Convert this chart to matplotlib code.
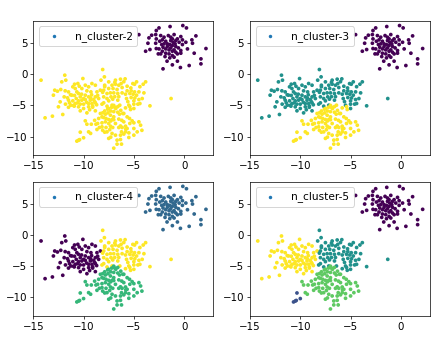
"""Four KMeans-style cluster panels over the same blobs, n_cluster 2 to 5."""

import matplotlib
matplotlib.use("Agg")
import matplotlib.pyplot as plt
import numpy as np

# points, grouped by which cluster they fall in
TOP_X = [-1.4, -0.13, 0.23, -2.5, -2.77, -3.23, -3.5, -3.6, -3.83, -3.4, -2.83, -2.77, -2.83, -2.77, -2.57,
         -2.33, -2.17, -2.0, -1.57, -1.0, -0.33, -0.17, 0.77, 1.17, 0.83, -1.83, -1.67, -1.33, -1.17, -0.83,
         -0.5, -0.17, 0.17, -2.23, -2.1, -1.83, -1.5, -1.17, -0.83, -0.57, -0.33, -2.17, -1.83, -1.5, -1.17,
         -0.67, -0.33, 0.33, 1.0, 2.17, 1.67, 1.67, 0.5, -0.37, -1.17, -2.1, -1.7, -0.67, -2.33, -2.5,
         -1.33, -1.0, -1.67, -1.43, -1.1, -0.9, -2.0, -2.43, -0.67, -1.33, -1.17, -0.83, -1.9, -1.43, -1.0, -4.5]
TOP_Y = [7.66, 7.82, 7.44, 7.44, 7.02, 6.27, 5.84, 4.98, 3.7, 3.97, 6.37, 5.68, 4.98, 4.13, 3.27,
         6.21, 5.52, 5.95, 6.21, 6.37, 6.05, 5.52, 5.52, 6.16, 4.98, 5.3, 4.88, 5.41, 5.68, 5.41,
         5.14, 4.77, 5.14, 4.77, 4.34, 4.07, 3.91, 4.61, 4.45, 4.23, 3.81, 3.7, 3.38, 3.27, 3.0,
         3.27, 3.38, 4.07, 3.38, 4.13, 2.47, 1.67, 1.4, 1.08, 1.51, 0.87, 2.1, 2.1, 3.27, 4.07,
         4.23, 3.91, 4.45, 4.77, 5.14, 4.88, 4.88, 5.3, 5.68, 5.95, 3.7, 3.54, 2.84, 2.63, 2.74, 6.36]

LEFT_X = [-14.23, -11.87, -11.77, -12.17, -10.07, -11.07, -10.57, -10.43, -9.83, -9.5, -9.17, -8.83, -12.87,
          -12.6, -13.0, -12.27, -11.83, -11.5, -10.83, -10.67, -10.17, -9.67, -9.27, -8.67, -8.33, -11.93,
          -11.6, -11.17, -9.83, -10.33, -10.73, -9.5, -8.83, -12.33, -12.5, -11.8, -11.4, -11.07, -11.27,
          -10.83, -10.5, -10.17, -9.83, -9.33, -9.0, -8.5, -10.33, -10.0, -9.5, -10.93, -10.5, -9.17, -8.83,
          -10.0, -9.67, -10.33, -8.83, -13.83, -13.1, -12.07, -9.5, -11.5, -9.2, -10.9, -11.0, -10.2, -9.1,
          -11.3, -10.5, -10.0, -9.7, -10.6, -9.3, -8.9, -9.1, -11.5, -10.9, -8.6, -8.7, -9.4]
LEFT_Y = [-0.95, -0.15, -0.95, -1.22, -0.69, -2.02, -1.49, -1.92, -1.76, -2.02, -1.49, -1.76, -2.56,
          -2.72, -3.36, -2.45, -2.66, -2.83, -2.29, -2.83, -2.29, -2.66, -2.83, -2.83, -2.56, -3.63,
          -3.79, -3.36, -3.36, -3.63, -3.9, -3.63, -3.63, -4.43, -5.23, -4.8, -4.59, -4.27, -4.97,
          -4.7, -4.27, -4.16, -4.06, -4.16, -4.06, -3.9, -4.8, -4.8, -4.7, -5.12, -5.23, -4.7, -4.59,
          -5.5, -6.2, -5.87, -5.87, -7.0, -6.73, -6.46, -5.23, -4.16, -3.3, -3.4, -5.0, -3.2, -5.1,
          -3.3, -3.1, -3.9, -4.5, -4.6, -3.8, -4.4, -5.3, -5.3, -1.6, -3.4, -4.9, -5.7]

MID_X = [-8.1, -7.93, -8.27, -7.5, -6.83, -6.33, -5.87, -4.73, -3.83, -4.07, -7.9, -7.17, -6.83, -6.5, -6.27,
         -5.67, -4.93, -8.0, -7.5, -7.07, -6.67, -6.17, -5.67, -5.27, -4.93, -4.5, -4.0, -7.67, -7.33, -7.0,
         -6.6, -6.17, -5.83, -5.4, -5.07, -4.73, -8.0, -7.67, -7.27, -5.73, -5.27, -4.17, -4.5, -8.0, -7.5,
         -6.6, -5.0, -7.67, -8.17, -7.17, -5.5, -5.0, -4.6, -3.4, -1.3,
         -6.9, -6.5, -5.0, -4.4, -5.6, -7.1, -7.9, -6.0, -6.9, -5.3, -4.4, -5.1, -4.9, -8.1]
MID_Y = [0.76, -0.42, -0.95, -1.22, -0.95, -0.79, -0.74, -1.22, -1.22, -1.6, -1.76, -1.76, -1.6, -1.76, -1.49,
         -1.92, -1.6, -2.56, -2.29, -2.29, -2.45, -2.13, -2.66, -2.66, -2.83, -2.83, -2.99, -3.09, -2.99, -2.99,
         -3.09, -2.99, -3.2, -3.09, -3.2, -3.36, -3.63, -3.9, -3.63, -3.9, -3.74, -3.9, -4.06, -4.59, -4.27,
         -4.16, -4.27, -5.13, -4.8, -4.97, -4.97, -5.5, -4.8, -5.07, -3.9,
         -3.6, -3.6, -4.8, -4.7, -4.4, -4.0, -2.0, -1.2, -1.3, -2.2, -2.0, -1.5, -3.8, -2.9]

# lower edge of the middle blob: yellow with 3 clusters, teal with 5
MID_LOW_X = [-6.4, -5.83, -5.33, -5.4]
MID_LOW_Y = [-4.97, -5.4, -5.66, -5.2]

LOW_X = [-9.83, -9.67, -9.23, -8.77, -9.5, -8.33, -8.1, -8.5, -8.17, -7.83, -7.57, -7.33, -7.0, -6.43, -6.0, -5.67,
         -5.43, -5.17, -4.5, -4.33, -8.0, -7.77, -7.5, -7.17, -7.83, -8.17, -7.5, -8.67, -8.43, -8.17, -7.77, -7.33,
         -7.1, -7.67, -7.17, -7.5, -6.33, -6.0, -6.17, -5.83, -6.23, -5.83, -5.5, -5.0, -4.67, -5.0, -5.5, -6.33,
         -6.83, -6.67, -6.33, -6.23, -6.67, -7.0, -5.67, -5.0, -6.83, -6.5,
         -7.6, -7.2, -6.8, -6.3, -7.9, -7.0, -6.6, -7.3, -6.1, -7.0, -6.6, -7.5, -6.9,
         -8.9, -8.6, -7.3, -7.0, -7.4, -7.9, -8.1, -6.5, -6.2, -5.4, -5.8, -6.0, -7.3, -4.2, -9.3]
LOW_Y = [-7.48, -8.02, -8.02, -8.02, -9.25, -6.3, -6.2, -7.1, -6.84, -6.41, -6.2, -6.57, -6.84, -6.41, -6.3, -6.84,
         -7.1, -7.48, -7.64, -8.18, -6.95, -7.1, -7.27, -7.27, -7.64, -7.8, -7.91, -8.87, -8.55, -8.44, -8.55, -8.34,
         -8.55, -9.25, -9.51, -10.3, -8.31, -7.64, -8.55, -8.34, -9.25, -9.25, -9.41, -8.71, -9.25, -9.78, -10.15, -9.78,
         -9.78, -10.58, -10.48, -11.22, -11.22, -11.87, -8.71, -7.8, -7.91, -8.55,
         -5.6, -5.3, -5.5, -5.8, -5.9, -6.0, -6.1, -5.9, -6.3, -5.0, -5.2, -5.5, -5.3,
         -7.4, -7.9, -7.5, -7.3, -8.9, -9.3, -9.0, -7.2, -7.4, -7.9, -8.8, -9.6, -10.1, -9.0, -9.5]

TAIL_X = [-10.33, -10.0, -10.4, -10.67, -10.5]
TAIL_Y = [-9.3, -10.2, -10.5, -10.74, -10.6]

GROUP_X = [TOP_X, LEFT_X, MID_X, MID_LOW_X, LOW_X, TAIL_X]
GROUP_Y = [TOP_Y, LEFT_Y, MID_Y, MID_LOW_Y, LOW_Y, TAIL_Y]

# cluster index of each group above, for every panel
N_CLUSTERS = [2, 3, 4, 5]
GROUP_LABELS = {
    2: [0, 1, 1, 1, 1, 1],
    3: [0, 1, 1, 2, 2, 2],
    4: [1, 0, 3, 3, 2, 2],
    5: [0, 4, 2, 2, 3, 1],
}
X_TICKS = [-15, -10, -5, 0]
Y_TICKS = [-10, -5, 0, 5]

# panel boxes in pixels: left, top
W, H = 447, 356
LEFTS = [33.3, 250.0]
TOPS = [20.7, 181.5]
BOX_W, BOX_H = 180.0, 134.2


def main() -> None:
    fig = plt.figure(figsize=(W / 72, H / 72), dpi=72)

    x = np.concatenate(GROUP_X)
    y = np.concatenate(GROUP_Y)

    for i, k in enumerate(N_CLUSTERS):
        left = LEFTS[i % 2]
        top = TOPS[i // 2]
        ax = fig.add_axes([left / W, 1 - (top + BOX_H) / H, BOX_W / W, BOX_H / H])

        labels = np.repeat(GROUP_LABELS[k], [len(g) for g in GROUP_X])
        ax.scatter(x, y, c=labels, cmap="viridis", s=14, linewidths=0)

        # legend handle stays default blue, not a cluster colour
        ax.scatter([], [], s=12, color="tab:blue", linewidths=0, label=f"n_cluster-{k}")
        ax.legend(loc="upper left", fontsize=10.5, handlelength=2.0, handletextpad=1.0, borderaxespad=0.55)

        ax.set_xlim(-15, 2.9)
        ax.set_ylim(-12.95, 8.6)
        ax.set_xticks(X_TICKS)
        ax.set_yticks(Y_TICKS)
        ax.tick_params(labelsize=10.3, length=3, width=0.7, pad=3)
        for spine in ax.spines.values():
            spine.set_linewidth(0.7)

    fig.savefig("out.png", dpi=72)


if __name__ == "__main__":
    main()
